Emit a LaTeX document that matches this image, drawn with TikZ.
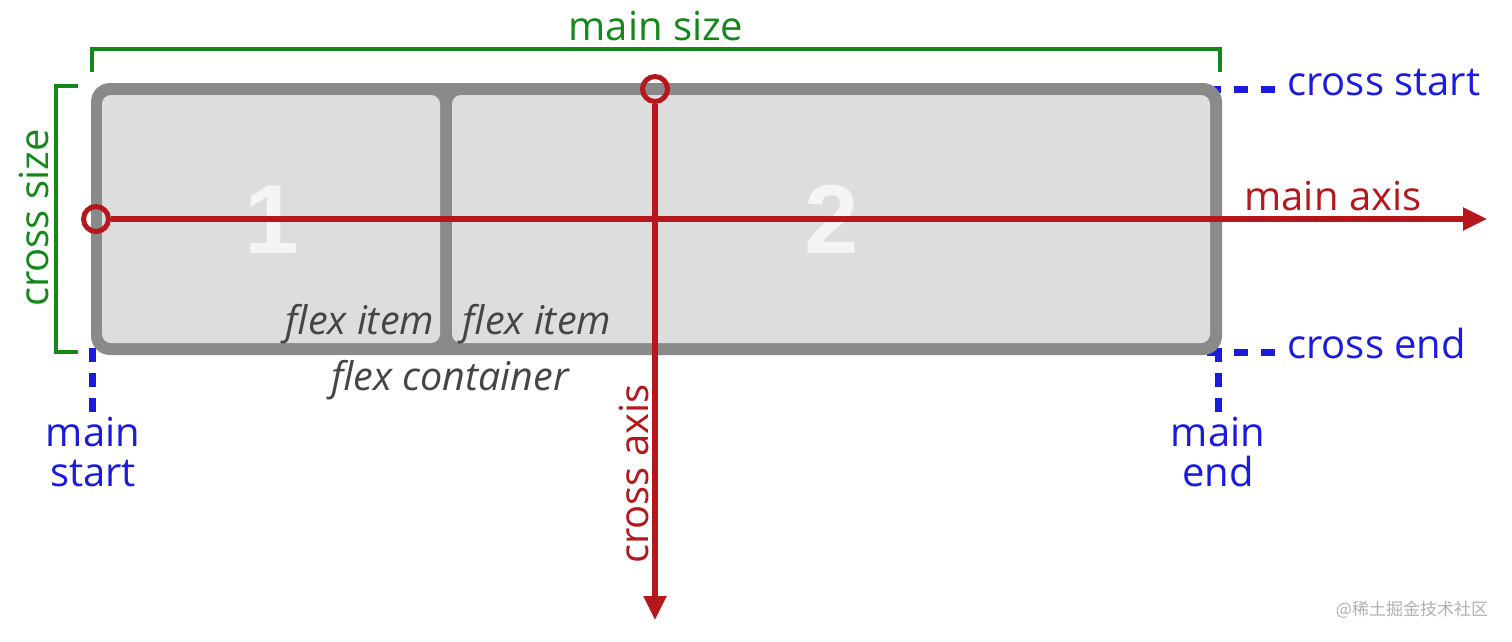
\documentclass[tikz,border=0pt]{standalone}
\usepackage{fontspec}
\setmainfont{Open Sans}
\newfontfamily\digitfont{Liberation Sans}
\newfontfamily\cjkfont{Noto Sans CJK SC}
\usetikzlibrary{arrows.meta}
\definecolor{bordergray}{HTML}{8A8A8A}
\definecolor{itemfill}{HTML}{DDDDDD}
\definecolor{axisred}{HTML}{B5171C}
\definecolor{sizegreen}{HTML}{14891A}
\definecolor{edgeblue}{HTML}{1B1BE0}
\definecolor{labelgray}{HTML}{454545}
\definecolor{digitwhite}{HTML}{F5F5F5}
\definecolor{markgray}{HTML}{B0B0B0}
\tikzset{
  bigtext/.style={font=\fontsize{40}{40}\selectfont, inner sep=0pt, anchor=base},
  itemtext/.style={font=\fontsize{39.5}{40}\selectfont\itshape, text=labelgray, inner sep=0pt, anchor=base},
  digit/.style={font=\fontsize{98}{98}\selectfont\digitfont\bfseries, text=digitwhite, inner sep=0pt, anchor=base},
  ring/.style={circle, draw=axisred, line width=5pt, minimum size=25pt, inner sep=0pt},
  axis/.style={draw=axisred, line width=5.5pt, -{Triangle[length=24pt,width=22pt]}},
  bracket/.style={draw=sizegreen, line width=3.2pt},
  edgedash/.style={draw=edgeblue, line width=7pt},
}
\begin{document}
\begin{tikzpicture}[x=1pt,y=-1pt]
\useasboundingbox (0,0) rectangle (1512,641);
% blue dashed edge marks (behind container)
\coordinate (csA) at (1207,89); \coordinate (csB) at (1275,89);
\coordinate (ceA) at (1207,352); \coordinate (ceB) at (1275,352);
\coordinate (msA) at (92,348); \coordinate (msB) at (92,414);
\coordinate (meA) at (1218,348); \coordinate (meB) at (1218,414);
\draw[edgedash, dash pattern=on 14pt off 13pt] (csA) -- (csB);
\draw[edgedash, dash pattern=on 14pt off 13pt] (ceA) -- (ceB);
\draw[edgedash, dash pattern=on 14pt off 11pt] (msA) -- (msB);
\draw[edgedash, dash pattern=on 14pt off 11pt] (meA) -- (meB);
% container and items
\fill[bordergray, rounded corners=19pt] (91,83) rectangle (1222,355);
\fill[itemfill, rounded corners=9pt] (102,95) rectangle (440,343);
\fill[itemfill, rounded corners=9pt] (452,95) rectangle (1210,343);
\node[digit] (d1) at (272,253) {1};
\node[digit] (d2) at (832,253) {2};
\node[itemtext] (fi1) at (360,334) {flex item};
\node[itemtext] (fi2) at (537,334) {flex item};
\node[itemtext] (fc) at (450,390) {flex container};
% green size brackets
\draw[bracket] (92,72) -- (92,49) -- (1220,49) -- (1220,72);
\draw[bracket] (78,86) -- (56,86) -- (56,352) -- (78,352);
\node[bigtext, text=sizegreen] (msize) at (656,40) {main size};
\node[bigtext, text=sizegreen, rotate=90] (csize) at (48,218) {cross size};
% red axes
\node[ring] (mstart) at (96,219) {};
\coordinate (mtip) at (1487,219);
\draw[axis] (mstart) -- (mtip);
\node[ring] (cstart) at (655,89) {};
\coordinate (ctip) at (655,620);
\draw[axis] (cstart) -- (ctip);
\node[bigtext, text=axisred] (maxis) at (1333,210) {main axis};
\node[bigtext, text=axisred, rotate=90] (caxis) at (648,474) {cross axis};
% blue labels
\node[bigtext, text=edgeblue, anchor=base west] (lcs) at (1287,95) {cross start};
\node[bigtext, text=edgeblue, anchor=base west] (lce) at (1287,358) {cross end};
\node[bigtext, text=edgeblue] (lms1) at (93,446) {main};
\node[bigtext, text=edgeblue] (lms2) at (93,486) {start};
\node[bigtext, text=edgeblue] (lme1) at (1218,446) {main};
\node[bigtext, text=edgeblue] (lme2) at (1218,486) {end};
% watermark
\node[font=\fontsize{17}{17}\selectfont\cjkfont, text=markgray, inner sep=0pt, anchor=base] (wm) at (1412,615) {@稀土掘金技术社区};
\end{tikzpicture}
\end{document}
